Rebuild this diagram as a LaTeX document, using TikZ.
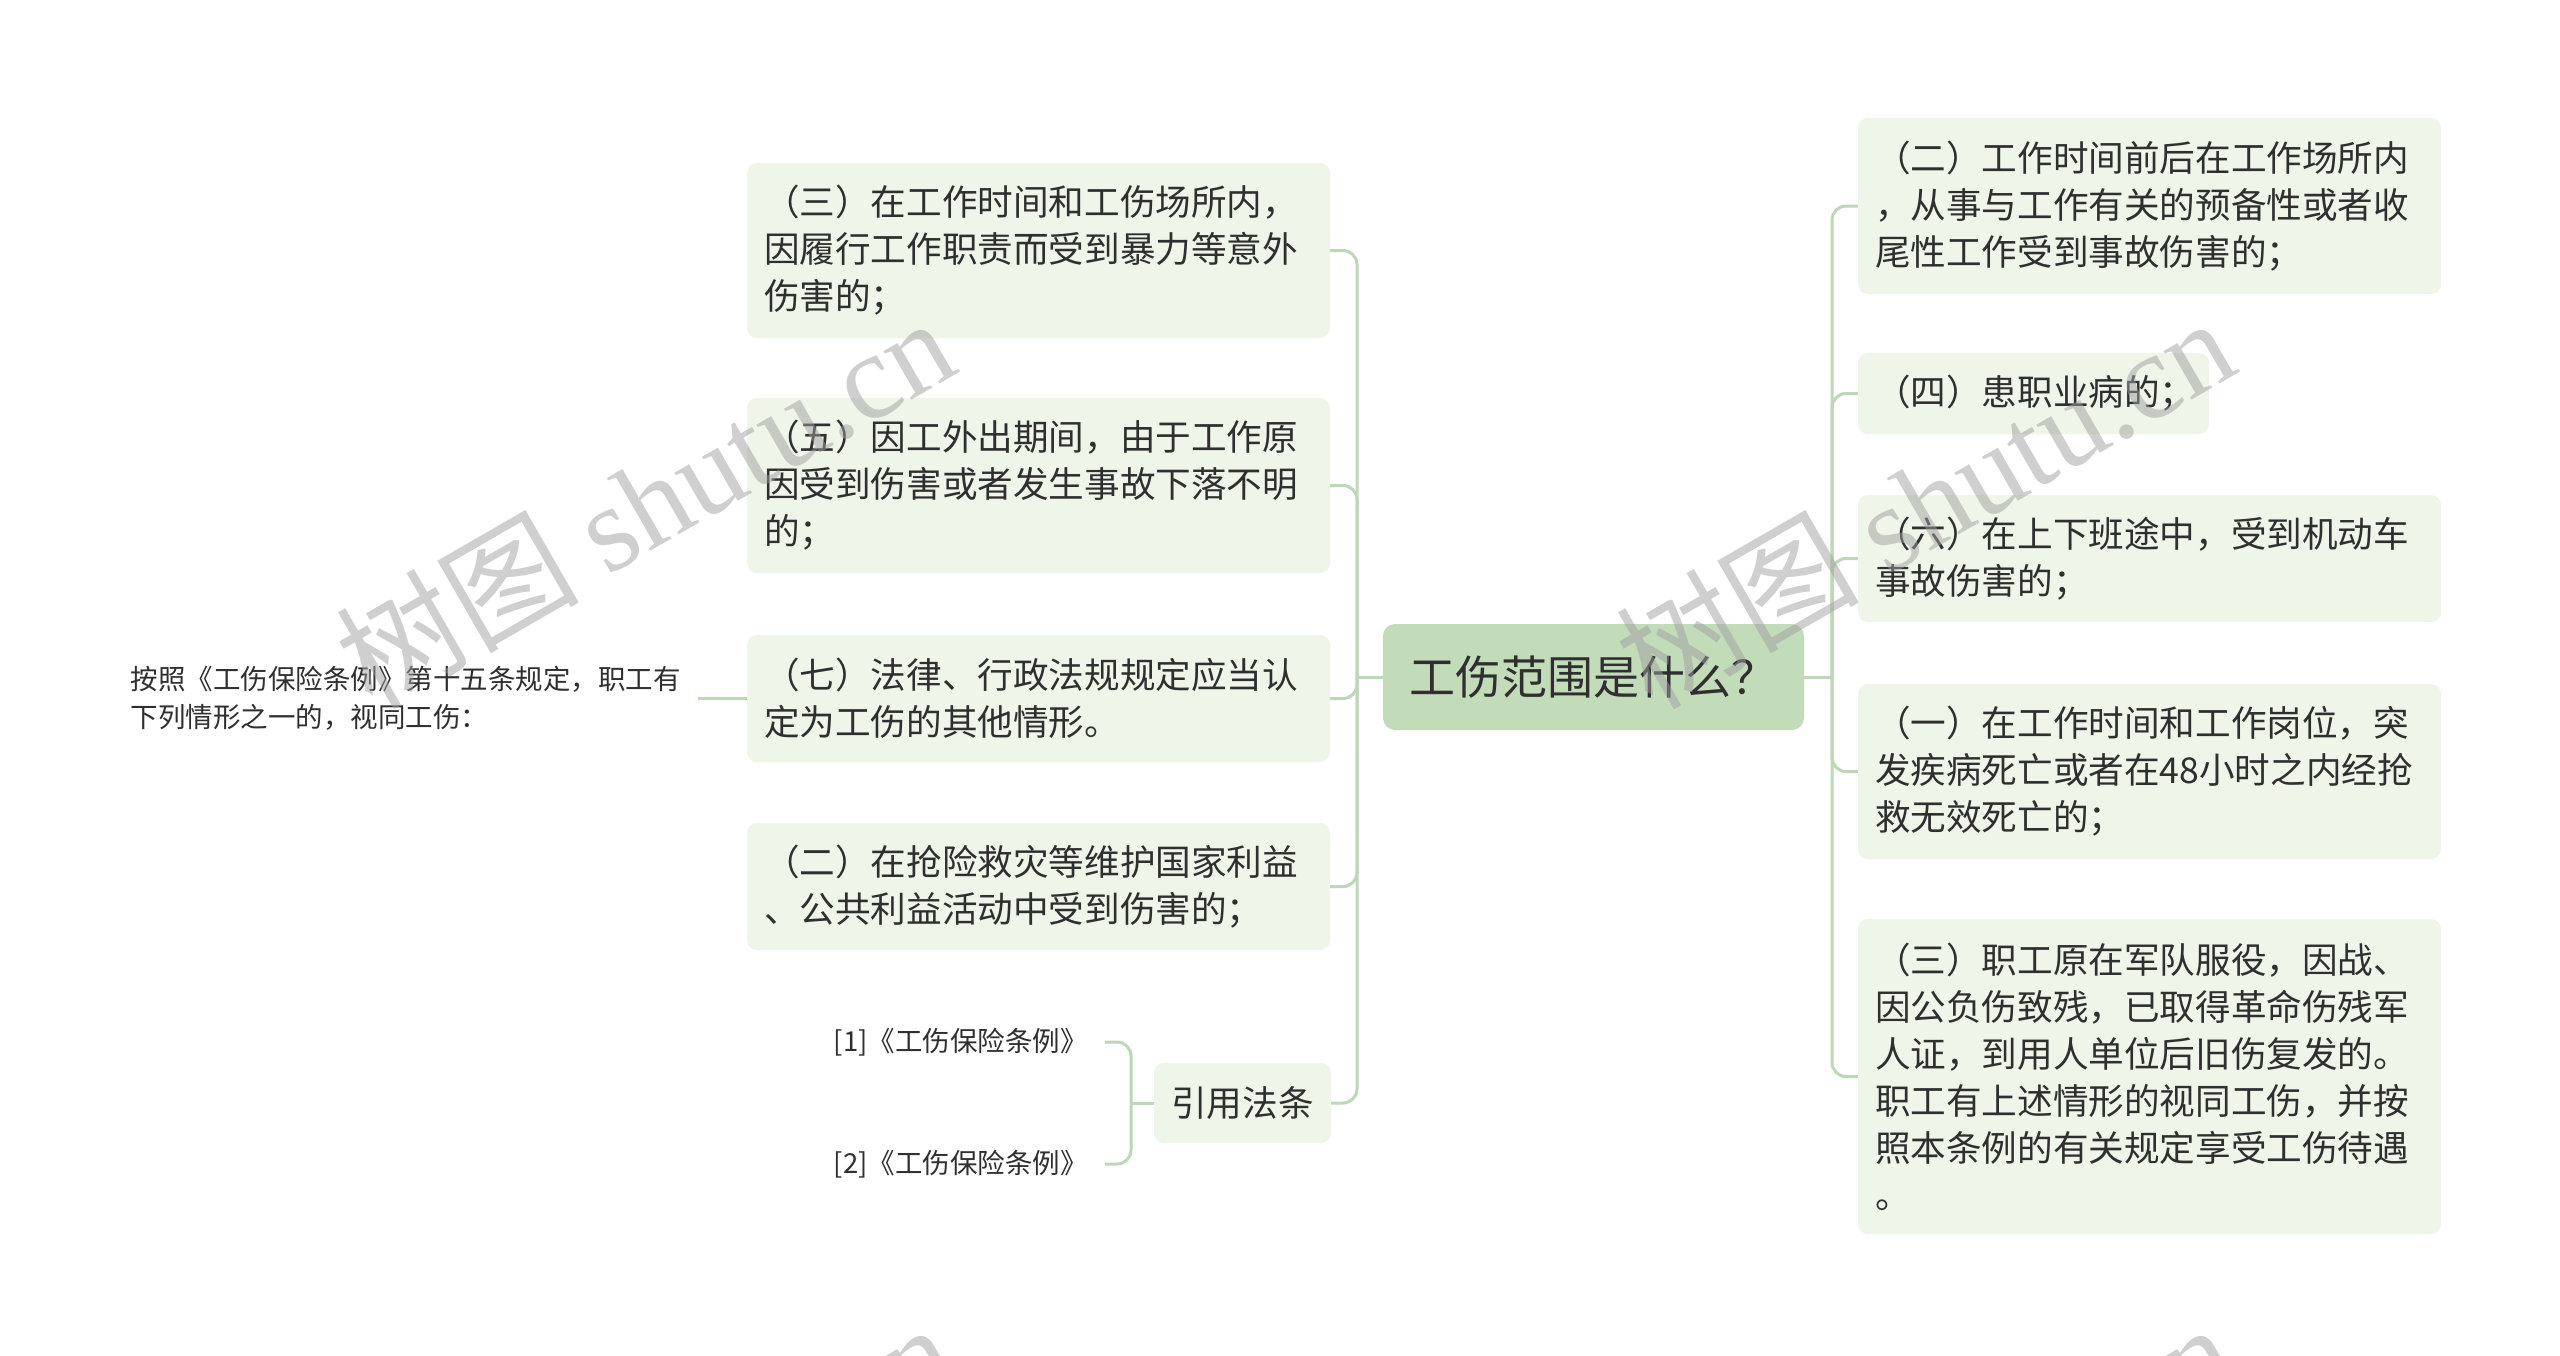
\documentclass[tikz,border=0pt]{standalone}
\usepackage{fontspec}
\setmainfont{Noto Sans CJK SC}
\newfontfamily\wmserif{Liberation Serif}
\newfontfamily\wmcjk{Noto Sans CJK SC}
\definecolor{boxfill}{HTML}{EFF5E8}
\definecolor{rootfill}{HTML}{C2DCBA}
\definecolor{linec}{HTML}{BDD8B6}
\definecolor{txt}{HTML}{2F2F2F}
\definecolor{wmgray}{HTML}{A0A0A0}
\begin{document}
\begin{tikzpicture}[x=1pt,y=-1pt,
  box/.style={fill=boxfill, rounded corners=10pt, inner xsep=17pt, inner ysep=0pt,
    align=left, font=\fontsize{35.6pt}{47pt}\selectfont, text=txt, anchor=center},
  wide/.style={box, text width=549pt},
  root/.style={fill=rootfill, rounded corners=12pt, inner sep=0pt, minimum width=421pt,
    minimum height=106pt, font=\fontsize{46pt}{56pt}\selectfont, text=txt},
  plain/.style={inner xsep=17pt, inner ysep=0pt, align=left,
    font=\fontsize{27.5pt}{37.5pt}\selectfont, text=txt},
  conn/.style={draw=linec, line width=3pt, rounded corners=14pt},
  wm/.style={inner sep=0pt, text=wmgray, font=\fontsize{122pt}{122pt}\selectfont}]
\useasboundingbox (0,0) rectangle (2560,1355);
\fill[white] (0,0) rectangle (2560,1355);

% central
\node[root] (c) at (1593.5,677) {工伤范围是什么？};

% left branches
\node[wide, minimum height=175pt] (l1) at (1038.5,250.5)
  {（三）在工作时间和工伤场所内，\\因履行工作职责而受到暴力等意外\\伤害的；};
\node[wide, minimum height=175pt] (l2) at (1038.5,485.5)
  {（五）因工外出期间，由于工作原\\因受到伤害或者发生事故下落不明\\的；};
\node[wide, minimum height=127pt] (l3) at (1038.5,698.5)
  {（七）法律、行政法规规定应当认\\定为工伤的其他情形。};
\node[wide, minimum height=127pt] (l4) at (1038.5,886.5)
  {（二）在抢险救灾等维护国家利益\\、公共利益活动中受到伤害的；};
\node[box, align=center, inner xsep=0pt, minimum width=177pt, minimum height=80pt] (l5) at (1242.5,1103)
  {引用法条};

% right branches
\node[wide, minimum height=176pt] (r1) at (2149.5,206)
  {（二）工作时间前后在工作场所内\\，从事与工作有关的预备性或者收\\尾性工作受到事故伤害的；};
\node[box, text width=317pt, minimum height=81pt] (r2) at (2033.5,393.5)
  {（四）患职业病的；};
\node[wide, minimum height=127pt] (r3) at (2149.5,558.5)
  {（六）在上下班途中，受到机动车\\事故伤害的；};
\node[wide, minimum height=175pt] (r4) at (2149.5,771.5)
  {（一）在工作时间和工作岗位，突\\发疾病死亡或者在48小时之内经抢\\救无效死亡的；};
\node[wide, minimum height=315pt] (r5) at (2149.5,1076.5)
  {（三）职工原在军队服役，因战、\\因公负伤致残，已取得革命伤残军\\人证，到用人单位后旧伤复发的。\\职工有上述情形的视同工伤，并按\\照本条例的有关规定享受工伤待遇\\。};

% leaf texts
\node[plain, anchor=east] (note) at (698,698.5)
  {按照《工伤保险条例》第十五条规定，职工有\\下列情形之一的，视同工伤：};
\node[plain, anchor=east] (ref1) at (1105,1042) {[1]《工伤保险条例》};
\node[plain, anchor=east] (ref2) at (1105,1164) {[2]《工伤保险条例》};

% junctions
\coordinate (jl) at (1357,677);
\coordinate (jr) at (1832,677);
\coordinate (jb) at (1131,1103);

% connectors
\draw[conn] (c.west) -- (jl);
\foreach \n in {l1,l2,l3,l4,l5} \draw[conn] (jl) |- (\n.east);
\draw[conn] (c.east) -- (jr);
\foreach \n in {r1,r2,r3,r4,r5} \draw[conn] (jr) |- (\n.west);
\draw[conn] (l5.west) -- (jb);
\draw[conn] (jb) |- (ref1.east);
\draw[conn] (jb) |- (ref2.east);
\draw[conn] (l3.west) -- (note.east);

% watermark
\begin{scope}
\clip (0,0) rectangle (2560,1355);
\foreach \dx/\dy [count=\i] in {0/0, 1280/0, 0/1006, 1280/1006}
  \node[wm, anchor=base west, rotate=30, opacity=0.5] (wm\i) at (372+\dx,712+\dy)
    {{\wmcjk 树图} {\wmserif shutu.cn}};
\end{scope}
\end{tikzpicture}
\end{document}
